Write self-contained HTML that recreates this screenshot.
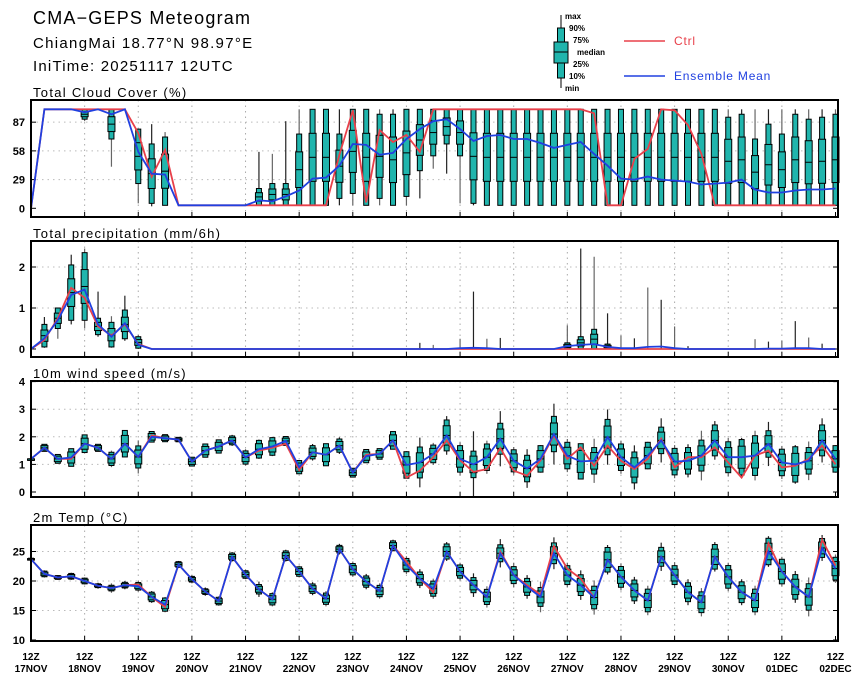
<!DOCTYPE html>
<html><head><meta charset="utf-8">
<style>
html,body{margin:0;padding:0;background:#fff;}
svg{display:block;font-family:"Liberation Sans",sans-serif;}
</style></head>
<body>
<svg id="chart" width="860" height="679" viewBox="0 0 860 679" xmlns="http://www.w3.org/2000/svg">
<text x="33" y="24" font-size="18" letter-spacing="1.2" fill="#000">CMA−GEPS Meteogram</text>
<text x="33" y="48" font-size="15" letter-spacing="1.3" fill="#000">ChiangMai 18.77°N 98.97°E</text>
<text x="33" y="71" font-size="15" letter-spacing="1.2" fill="#000">IniTime: 20251117 12UTC</text>
<g>
  <line x1="561" y1="15" x2="561" y2="88" stroke="#000" stroke-width="1"/>
  <rect x="557.5" y="28" width="7" height="50" fill="#20b5ad" stroke="#000" stroke-width="1"/>
  <rect x="554" y="42" width="14" height="21" fill="#20b5ad" stroke="#000" stroke-width="1"/>
  <line x1="554" y1="52" x2="568" y2="52" stroke="#000"/>
  <g font-size="8" font-weight="bold" fill="#000">
    <text x="565" y="19">max</text><text x="569" y="31">90%</text><text x="573" y="43">75%</text>
    <text x="577" y="55">median</text><text x="573" y="67">25%</text><text x="569" y="79">10%</text><text x="565" y="91">min</text>
  </g>
  <line x1="624" y1="41" x2="665" y2="41" stroke="#e8404a" stroke-width="1.5"/>
  <text x="674" y="45" font-size="12" letter-spacing="0.8" fill="#e8404a">Ctrl</text>
  <line x1="624" y1="76" x2="665" y2="76" stroke="#2040e0" stroke-width="1.5"/>
  <text x="674" y="80" font-size="12" letter-spacing="0.8" fill="#2040e0">Ensemble Mean</text>
</g>
</svg>
<script>
const days = ["17NOV","18NOV","19NOV","20NOV","21NOV","22NOV","23NOV","24NOV","25NOV","26NOV","27NOV","28NOV","29NOV","30NOV","01DEC","02DEC"];
// Cloud cover (%)
const cMean=[0,100,100,100,97,100,95,100,57,35,34,3,3,3,3,3,3,8,7,12,18,30,31,43,65,64,54,56,70,80,88,90,80,68,73,74,70,70,66,61,64,67,55,43,30,29,32,29,28,27,24,25,26,29,19,16,16,18,19,19,20];
const cCtrl=[0,100,100,100,100,100,100,100,76,32,59,3,3,3,3,3,3,3,3,3,3,3,3,54,99,6,79,67,74,57,100,100,100,100,100,100,100,100,100,100,100,100,96,3,3,50,60,100,99,84,55,3,3,3,3,3,3,3,3,3,3];
const cLo=[0,100,100,100,90,100,70,100,25,5,3,3,3,3,3,3,3,3,3,3,3,3,3,10,15,3,10,3,12,38,53,65,53,5,3,3,3,3,3,3,3,3,3,3,3,3,3,3,3,3,3,3,3,3,3,3,3,3,3,3,3];
const cHi=[0,100,100,100,100,100,100,100,80,65,72,3,3,3,3,3,3,20,25,25,75,100,100,75,100,100,95,95,100,100,100,100,100,100,100,100,100,100,100,100,100,100,100,100,100,100,100,100,100,100,100,100,92,95,70,85,75,95,90,92,95];
const cMin=[0,100,100,100,88,100,42,100,5,2,3,3,3,3,3,3,3,3,3,3,3,3,3,3,3,3,3,3,3,10,40,35,5,3,3,3,3,3,3,3,3,3,3,3,3,3,3,3,3,3,3,3,3,3,3,3,3,3,3,3,3];
const cMax=[0,100,100,100,100,100,100,100,80,85,77,3,3,3,3,3,5,57,55,88,100,100,100,100,100,100,100,100,100,100,100,100,100,100,100,100,100,100,100,100,100,100,100,100,100,100,100,100,100,100,100,100,100,100,100,100,100,100,100,100,100];
// Precipitation (mm/6h)
const pMean=[0,0.26,0.7,1.32,1.45,0.6,0.3,0.63,0.1,0,0,0,0,0,0,0,0,0,0,0,0,0,0,0,0,0,0,0,0,0,0,0,0.02,0.03,0.02,0,0,0,0,0,0.07,0.1,0.12,0.05,0.02,0.02,0.05,0.06,0.02,0,0,0,0,0,0,0.01,0.01,0.02,0.02,0,0];
const pCtrl=[0,0.22,0.75,1.49,1.25,0.55,0.33,0.6,0.12,0,0,0,0,0,0,0,0,0,0,0,0,0,0,0,0,0,0,0,0,0,0,0,0,0,0,0,0,0,0,0,0,0,0,0,0,0,0,0,0,0,0,0,0,0,0,0,0,0,0,0,0];
const pLo=[0,0.05,0.5,0.7,0.7,0.35,0.05,0.25,0.02,0,0,0,0,0,0,0,0,0,0,0,0,0,0,0,0,0,0,0,0,0,0,0,0,0,0,0,0,0,0,0,0,0,0,0,0,0,0,0,0,0,0,0,0,0,0,0,0,0,0,0,0];
const pHi=[0,0.6,1.0,2.05,2.35,0.75,0.65,0.95,0.3,0,0,0,0,0,0,0,0,0,0,0,0,0,0,0,0,0,0,0,0,0,0,0,0,0,0,0,0,0,0,0,0.15,0.3,0.48,0.12,0,0,0,0,0,0,0,0,0,0,0,0,0,0,0,0,0];
const pMin=[0,0.03,0.25,0.6,0.5,0.3,0.03,0.2,0,0,0,0,0,0,0,0,0,0,0,0,0,0,0,0,0,0,0,0,0,0,0,0,0,0,0,0,0,0,0,0,0,0,0,0,0,0,0,0,0,0,0,0,0,0,0,0,0,0,0,0,0];
const pMax=[0,0.78,1.0,2.3,2.45,1.4,0.8,1.3,0.35,0,0,0,0,0,0,0,0,0,0,0,0,0,0,0,0,0,0,0,0,0.15,0.1,0,0.25,1.4,0.25,0.27,0,0,0,0,0.58,2.45,2.25,0.87,0.33,0.26,1.5,1.2,0.55,0.07,0,0,0,0,0.24,0.18,0.2,0.68,0.28,0.13,0];
// 10m wind speed (m/s)
const wMean=[1.2,1.6,1.2,1.25,1.75,1.6,1.2,1.75,1.27,2.0,1.95,1.9,1.1,1.5,1.65,1.87,1.25,1.55,1.65,1.85,0.9,1.44,1.35,1.68,0.7,1.3,1.38,1.87,0.98,1.07,1.38,2.05,1.2,1.0,1.26,1.93,1.13,0.85,1.2,2.1,1.32,1.11,1.13,1.99,1.26,0.89,1.32,1.87,1.1,1.13,1.32,1.87,1.26,1.26,1.32,1.74,1.07,1.0,1.13,1.87,1.2];
const wCtrl=[1.2,1.6,1.2,1.2,1.75,1.6,1.2,1.75,1.27,2.05,1.95,1.9,1.1,1.5,1.65,1.87,1.25,1.5,1.6,1.75,0.8,1.44,1.35,1.68,0.7,1.35,1.38,1.87,0.52,0.77,1.26,1.87,1.15,0.73,0.83,1.59,0.77,0.59,1.15,2.05,1.2,1.62,0.95,1.68,1.13,0.83,1.2,1.93,0.89,1.26,1.26,1.62,1.07,0.52,1.32,1.5,0.89,0.95,1.2,1.68,1.0];
const wSpread=[0,.08,.1,.2,.2,.08,.15,.3,.25,.12,.08,.05,.1,.15,.15,.1,.15,.2,.2,.1,.15,.15,.25,.15,.1,.15,.12,.2,.3,.35,.2,.35,.3,.3,.3,.35,.25,.3,.3,.4,.3,.4,.3,.4,.3,.35,.3,.3,.3,.3,.35,.35,.35,.4,.45,.3,.3,.4,.3,.35,.3];
const wWhisk=[0,.12,.12,.3,.3,.12,.3,.35,.6,.2,.1,.08,.15,.2,.25,.2,.3,.35,.35,.15,.25,.3,.35,.3,.15,.25,.2,.3,.5,.9,.4,.7,.6,1.2,.6,1.0,.5,.7,.5,1.1,.6,.6,.8,1.0,.6,.8,.5,.8,.6,.6,.9,.7,.7,.7,.9,.8,.6,.7,.7,.8,.5];
// 2m temperature (°C)
const tMean=[23.7,21.2,20.6,20.8,20.0,19.2,18.8,19.3,19.1,17.3,16.0,22.8,20.3,18.2,16.6,24.1,21.1,18.6,16.9,24.3,21.6,18.7,17.0,25.4,22.0,19.9,18.3,26.0,22.7,20.4,18.7,25.0,21.6,19.3,17.3,24.7,21.0,19.0,17.3,24.7,21.0,19.3,17.2,23.6,20.7,18.4,16.7,24.1,21.0,18.1,16.4,24.1,20.7,18.1,16.7,25.0,21.6,19.0,17.3,25.6,22.1];
const tCtrl=[23.7,21.2,20.6,20.8,20.0,19.2,18.8,19.3,19.4,17.3,15.6,22.8,20.3,18.2,16.6,24.1,21.1,18.6,16.9,24.3,21.6,18.7,17.0,25.4,22.0,19.9,18.3,26.0,23.3,20.4,18.1,25.0,21.6,19.3,17.3,25.0,21.0,19.3,17.7,25.9,22.1,20.4,17.2,23.6,20.7,18.4,16.7,24.1,21.0,18.1,16.4,24.1,20.7,18.1,16.7,26.4,21.6,19.0,17.3,27.0,22.6];
const tSpread=[0.1,0.3,0.2,0.3,0.3,0.2,0.3,0.3,0.4,0.5,0.7,0.3,0.3,0.3,0.4,0.4,0.4,0.5,0.6,0.5,0.5,0.5,0.6,0.4,0.6,0.6,0.6,0.5,0.7,0.7,0.8,0.8,0.7,0.8,0.8,0.9,0.9,0.9,1.0,1.1,1.0,1.1,1.2,1.3,1.1,1.1,1.2,1.0,1.0,1.0,1.1,1.3,1.2,1.1,1.2,1.4,1.3,1.3,1.4,1.0,1.2];
const tWhisk=[0.2,0.6,0.4,0.6,0.6,0.5,0.8,0.7,0.9,1.0,1.3,0.6,0.7,0.7,0.8,0.8,0.8,1.3,1.2,1.0,1.0,1.1,1.3,0.9,1.3,1.3,1.3,1.0,1.5,1.6,1.7,1.6,1.5,2.0,1.8,2.4,2.1,2.0,2.6,2.7,2.1,2.5,2.9,2.5,2.3,2.3,2.5,2.4,2.2,2.2,2.4,2.5,2.4,2.2,2.5,2.6,2.5,2.7,3.3,2.2,2.4];

const NS="http://www.w3.org/2000/svg";
const svg=document.getElementById('chart');
const X0=31,X1=838,NSTEP=60;
function xAt(i){return X0+(835.5-X0)*i/NSTEP;}
function mk(tag,attrs,parent){const e=document.createElementNS(NS,tag);for(const k in attrs)e.setAttribute(k,attrs[k]);(parent||svg).appendChild(e);return e;}

const panels=[
 {name:'cloud-cover',title:'Total Cloud Cover (%)',top:100,bot:217,v0:0,y0:208.3,k:0.99,ticks:[0,29,58,87],titleY:97,
  mean:cMean,ctrl:cCtrl,lo:cLo,hi:cHi,mn:cMin,mx:cMax},
 {name:'precipitation',title:'Total precipitation (mm/6h)',top:241,bot:357,v0:0,y0:349,k:41,ticks:[0,1,2],titleY:238,
  mean:pMean,ctrl:pCtrl,lo:pLo,hi:pHi,mn:pMin,mx:pMax},
 {name:'wind-speed',title:'10m wind speed (m/s)',top:381,bot:497,v0:0,y0:492,k:27.6,ticks:[0,1,2,3,4],titleY:378,
  mean:wMean,ctrl:wCtrl,sp:wSpread,wh:wWhisk},
 {name:'temperature',title:'2m Temp (°C)',top:525,bot:641,v0:10,y0:640,k:5.9,ticks:[10,15,20,25],titleY:522,
  mean:tMean,ctrl:tCtrl,sp:tSpread,wh:tWhisk}
];

panels.forEach(p=>{
  const g=mk('g',{});
  
  
  const yv=v=>p.y0-(v-p.v0)*p.k;
  const t=mk('text',{x:33,y:p.titleY,'font-size':13,'letter-spacing':1.3,fill:'#000'},g);
  t.textContent=p.title;
  
  
  for(let d=1;d<15;d++){const x=xAt(d*4);
    const l=mk('line',{x1:x,x2:x,y1:p.top,y2:p.bot,stroke:'#aaa','stroke-dasharray':'1.5,4'},g);
    }
  p.ticks.forEach(v=>{const y=yv(v);
    if(v!==p.v0){const l=mk('line',{x1:X0,x2:X1,y1:y,y2:y,stroke:'#bbb','stroke-dasharray':'1.5,4'},g);
      }
    mk('line',{x1:X0,x2:X0+5,y1:y,y2:y,stroke:'#000'},g);
    mk('line',{x1:X1-5,x2:X1,y1:y,y2:y,stroke:'#000'},g);
    const tl=mk('text',{x:25,y:y+4,'font-size':11,'font-weight':'bold','text-anchor':'end',fill:'#000'},g);
    tl.textContent=String(v);
    
  });
  for(let d=0;d<=15;d++){const x=xAt(d*4);mk('line',{x1:x,x2:x,y1:p.bot,y2:p.bot-5,stroke:'#000'},g);}
  for(let i=0;i<p.mean.length;i++){
    let lo,hi,mn,mx,q1,q3,med;
    if(p.sp){const m=p.mean[i];q1=m-p.sp[i];q3=m+p.sp[i];lo=m-p.sp[i]*1.6;hi=m+p.sp[i]*1.6;mn=m-p.wh[i];mx=m+p.wh[i];med=m;}
    else{lo=p.lo[i];hi=p.hi[i];mn=p.mn[i];mx=p.mx[i];q1=lo+(hi-lo)*0.25;q3=lo+(hi-lo)*0.75;med=lo+(hi-lo)*0.5;}
    const x=xAt(i);
    if(mx-mn>0.001){const w=mk('line',{x1:x,x2:x,y1:yv(mx),y2:yv(mn),stroke:i%2?'#222':'#666','stroke-width':1.2},g);
      }
    if(hi-lo>0.001||p.sp){
      const b=mk('rect',{x:x-2.5,y:yv(hi),width:5,height:Math.max(1.5,yv(lo)-yv(hi)),fill:'#20b5ad',stroke:'#000','stroke-width':1},g);
      
      const b2=mk('rect',{x:x-3.5,y:yv(q3),width:7,height:Math.max(1.5,yv(q1)-yv(q3)),fill:'#20b5ad',stroke:'#000','stroke-width':1},g);
      
      mk('line',{x1:x-3.5,x2:x+3.5,y1:yv(med),y2:yv(med),stroke:'#000','stroke-width':1},g);
    }
  }
  const lp=a=>a.map((v,i)=>xAt(i).toFixed(1)+','+yv(v).toFixed(1)).join(' ');
  const c=mk('polyline',{points:lp(p.ctrl),fill:'none',stroke:'#e8404a','stroke-width':1.8},g);
  
  const m=mk('polyline',{points:lp(p.mean),fill:'none',stroke:'#2040e0','stroke-width':1.8},g);
  
  const fr=mk('rect',{x:X0,y:p.top,width:X1-X0,height:p.bot-p.top,fill:'none',stroke:'#000','stroke-width':2},g);
  
});
days.forEach((d,k)=>{const x=xAt(k*4);
  const a=mk('text',{x:x,y:660,'font-size':10,'font-weight':'bold','text-anchor':'middle',fill:'#000'});
  a.textContent='12Z';
  const b=mk('text',{x:x,y:672,'font-size':10,'font-weight':'bold','text-anchor':'middle',fill:'#000'});
  b.textContent=d;
});
</script>
</body></html>
